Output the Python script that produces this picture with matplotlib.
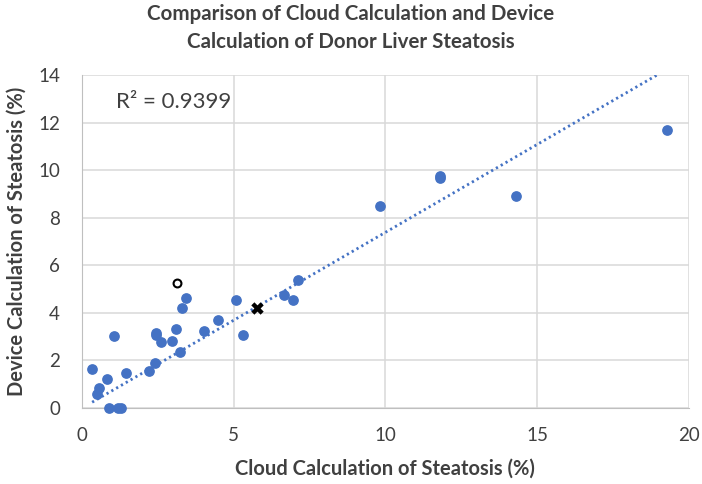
import numpy as np
import matplotlib.pyplot as plt

# Blue points (cloud vs device steatosis %)
cloud_pct = [0.33, 0.50, 0.57, 0.83, 0.88, 1.19, 1.27, 1.06, 1.43, 2.20,
             2.39, 2.42, 2.42, 2.60, 2.97, 3.11, 3.24, 3.30, 3.41, 4.02,
             4.47, 5.08, 5.31, 6.65, 6.96, 7.11, 9.81, 11.79, 11.79, 14.30,
             19.27]
device_pct = [1.65, 0.60, 0.84, 1.23, 0.00, 0.00, 0.00, 3.02, 1.48, 1.54,
              1.90, 3.08, 3.16, 2.77, 2.80, 3.34, 2.34, 4.20, 4.62, 3.22,
              3.71, 4.56, 3.09, 4.76, 4.56, 5.37, 8.51, 9.65, 9.74, 8.93,
              11.70]

# special markers
open_pt = (3.14, 5.24)
cross_pt = (5.78, 4.20)

# trendline
trend_slope = 0.7385
trend_icpt = 0.0

r2_text = "R² = 0.9399"
title = "Comparison of Cloud Calculation and Device\nCalculation of Donor Liver Steatosis"
xlabel = "Cloud Calculation of Steatosis (%)"
ylabel = "Device Calculation of Steatosis (%)"

plt.rcParams['font.family'] = ['Lato', 'DejaVu Sans']
txt = '#404040'

fig = plt.figure(figsize=(7.02, 4.84), dpi=100)
ax = fig.add_axes([0.117, 0.157, 0.864, 0.688])

x = np.array(cloud_pct)
y = np.array(device_pct)

xs = np.array([x.min(), x.max()])
ax.plot(xs, trend_slope * xs + trend_icpt, ls=(0, (0.8, 1.2)), color='#4472C4',
        lw=2, zorder=2)

ax.scatter(x, y, s=45, color='#4472C4', zorder=3, clip_on=False)
ax.scatter(*open_pt, s=32, facecolor='white', edgecolor='black', lw=1.5, zorder=4)
ax.scatter(*cross_pt, s=80, marker='X', color='black', lw=0, zorder=4)

ax.set_xlim(0, 20)
ax.set_ylim(0, 14)
ax.set_xticks(range(0, 21, 5))
ax.set_yticks(range(0, 15, 2))
ax.grid(True, color='#d9d9d9', lw=1.1)
ax.set_axisbelow(True)
for s in ['top', 'right']:
    ax.spines[s].set_visible(False)
for s in ['left', 'bottom']:
    ax.spines[s].set_color('#bfbfbf')
ax.tick_params(length=0, labelsize=13.5, colors=txt)
ax.tick_params(axis='x', pad=14)
ax.tick_params(axis='y', pad=16)

ax.text(1.12, 12.86, r2_text, fontsize=16, color=txt, va='center')

ax.set_xlabel(xlabel, fontsize=14.5, color=txt, fontweight='bold', labelpad=10)
ax.set_ylabel(ylabel, fontsize=14.5, color=txt, fontweight='bold', labelpad=8)
fig.text(0.5, 0.943, title, ha='center', va='center', fontsize=14.8,
         fontweight='bold', color=txt, linespacing=1.5)

fig.savefig('out.png', dpi=100)
